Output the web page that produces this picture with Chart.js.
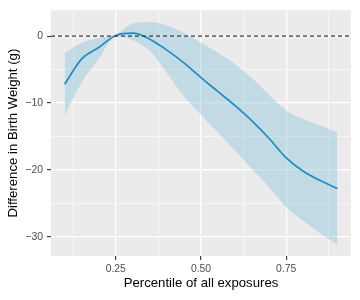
<!DOCTYPE html>
<html>
<head>
<meta charset="utf-8">
<script src="https://cdn.jsdelivr.net/npm/chart.js@4.4.1/dist/chart.umd.min.js"></script>
<style>
  html, body { margin: 0; padding: 0; background: #ffffff; }
  canvas { display: block; }
</style>
</head>
<body>
<canvas id="chart" width="360" height="300"></canvas>
<script>
// ---- data ----
const percentiles = [0.10, 0.15, 0.20, 0.25, 0.30, 0.35, 0.40, 0.45, 0.50,
                     0.55, 0.60, 0.65, 0.70, 0.75, 0.80, 0.85, 0.90];
const estimate = [-7.2, -3.4, -1.7, 0.1, 0.45, -0.45, -2.1, -4.0, -6.2,
                  -8.3, -10.4, -12.7, -15.3, -18.2, -20.2, -21.6, -22.8];
const upperCI = [-2.5, -1.0, -0.3, 0.2, 1.9, 2.1, 1.6, 0.5, -1.0,
                 -2.5, -4.2, -6.3, -8.8, -11.1, -12.4, -13.4, -14.4];
const lowerCI = [-11.9, -6.9, -3.4, -0.1, -0.6, -2.2, -5.5, -9.0, -11.8,
                 -14.4, -17.1, -19.9, -22.6, -25.6, -27.6, -29.5, -31.2];

const xMajorTicks = [0.25, 0.50, 0.75];
const xMinorTicks = [0.125, 0.375, 0.625, 0.875];
const yMajorTicks = [-30, -20, -10, 0];
const yMinorTicks = [-25, -15, -5];
const refLineY = 0;

const xRange = [0.06, 0.94];
const yRange = [-32.87, 3.87];

// ---- style ----
const FONT = "'Liberation Sans', Arial, Helvetica, sans-serif";
const PANEL_BG = "#EBEBEB";
const LINE_COLOR = "#1E8CC6";
const RIBBON_COLOR = "rgba(135,195,220,0.42)";

const toPoints = (ys) => percentiles.map((x, i) => ({ x, y: ys[i] }));
const isMajor = (list, v) => list.some((m) => Math.abs(m - v) < 1e-9);
const withTicks = (major, minor) => (scale) => {
  scale.ticks = [...major, ...minor].sort((a, b) => a - b).map((value) => ({ value }));
};

/* panel background + dashed reference line */
const panelPlugin = {
  id: "panel",
  beforeDraw(chart) {
    const { ctx, chartArea: a } = chart;
    ctx.save();
    ctx.fillStyle = PANEL_BG;
    ctx.fillRect(a.left, a.top, a.right - a.left, a.bottom - a.top);
    ctx.restore();
  },
  afterDatasetsDraw(chart) {
    const { ctx, chartArea: a, scales } = chart;
    const y = scales.y.getPixelForValue(refLineY);
    ctx.save();
    ctx.strokeStyle = "#3a3a3a";
    ctx.lineWidth = 1.1;
    ctx.setLineDash([4, 3]);
    ctx.beginPath();
    ctx.moveTo(a.left, y);
    ctx.lineTo(a.right, y);
    ctx.stroke();
    ctx.restore();
  },
};

new Chart(document.getElementById("chart"), {
  type: "line",
  data: {
    datasets: [
      {
        label: "Estimate",
        data: toPoints(estimate),
        borderColor: LINE_COLOR,
        borderWidth: 1.7,
        pointRadius: 0,
        cubicInterpolationMode: "monotone",
        fill: false,
      },
      {
        label: "Upper",
        data: toPoints(upperCI),
        borderWidth: 0,
        borderColor: "transparent",
        backgroundColor: RIBBON_COLOR,
        pointRadius: 0,
        cubicInterpolationMode: "monotone",
        fill: "+1",
      },
      {
        label: "Lower",
        data: toPoints(lowerCI),
        borderWidth: 0,
        borderColor: "transparent",
        pointRadius: 0,
        cubicInterpolationMode: "monotone",
        fill: false,
      },
    ],
  },
  options: {
    responsive: false,
    animation: false,
    layout: { padding: { top: 9, right: 9, left: 0, bottom: 0 } },
    plugins: { legend: { display: false }, tooltip: { enabled: false } },
    scales: {
      x: {
        type: "linear",
        min: xRange[0],
        max: xRange[1],
        afterBuildTicks: withTicks(xMajorTicks, xMinorTicks),
        afterFit: (s) => { s.height = 44; },
        border: { display: false },
        grid: {
          color: "#ffffff",
          lineWidth: (c) => (isMajor(xMajorTicks, c.tick.value) ? 1.2 : 0.6),
          tickColor: (c) => (isMajor(xMajorTicks, c.tick.value) ? "#333333" : "transparent"),
          tickLength: 4,
          tickWidth: 1.1,
        },
        ticks: {
          autoSkip: false,
          maxRotation: 0,
          padding: 3,
          color: "#4D4D4D",
          font: { family: FONT, size: 10.4 },
          callback: (v) => (isMajor(xMajorTicks, v) ? v.toFixed(2) : ""),
        },
        title: {
          display: true,
          text: "Percentile of all exposures",
          color: "#000000",
          font: { family: FONT, size: 13.2 },
          padding: { top: 0, bottom: 9 },
        },
      },
      y: {
        type: "linear",
        min: yRange[0],
        max: yRange[1],
        afterBuildTicks: withTicks(yMajorTicks, yMinorTicks),
        afterFit: (s) => { s.width = 51; },
        border: { display: false },
        grid: {
          color: "#ffffff",
          lineWidth: (c) => (isMajor(yMajorTicks, c.tick.value) ? 1.2 : 0.6),
          tickColor: (c) => (isMajor(yMajorTicks, c.tick.value) ? "#333333" : "transparent"),
          tickLength: 4,
          tickWidth: 1.1,
        },
        ticks: {
          autoSkip: false,
          padding: 4,
          color: "#4D4D4D",
          font: { family: FONT, size: 10.4 },
          callback: (v) => (isMajor(yMajorTicks, v) ? String(v).replace("-", "\u2212") : ""),
        },
        title: {
          display: true,
          text: "Difference in Birth Weight (g)",
          color: "#000000",
          font: { family: FONT, size: 13.2 },
          padding: { top: 5, bottom: 0 },
        },
      },
    },
  },
  plugins: [panelPlugin],
});
</script>
</body>
</html>
